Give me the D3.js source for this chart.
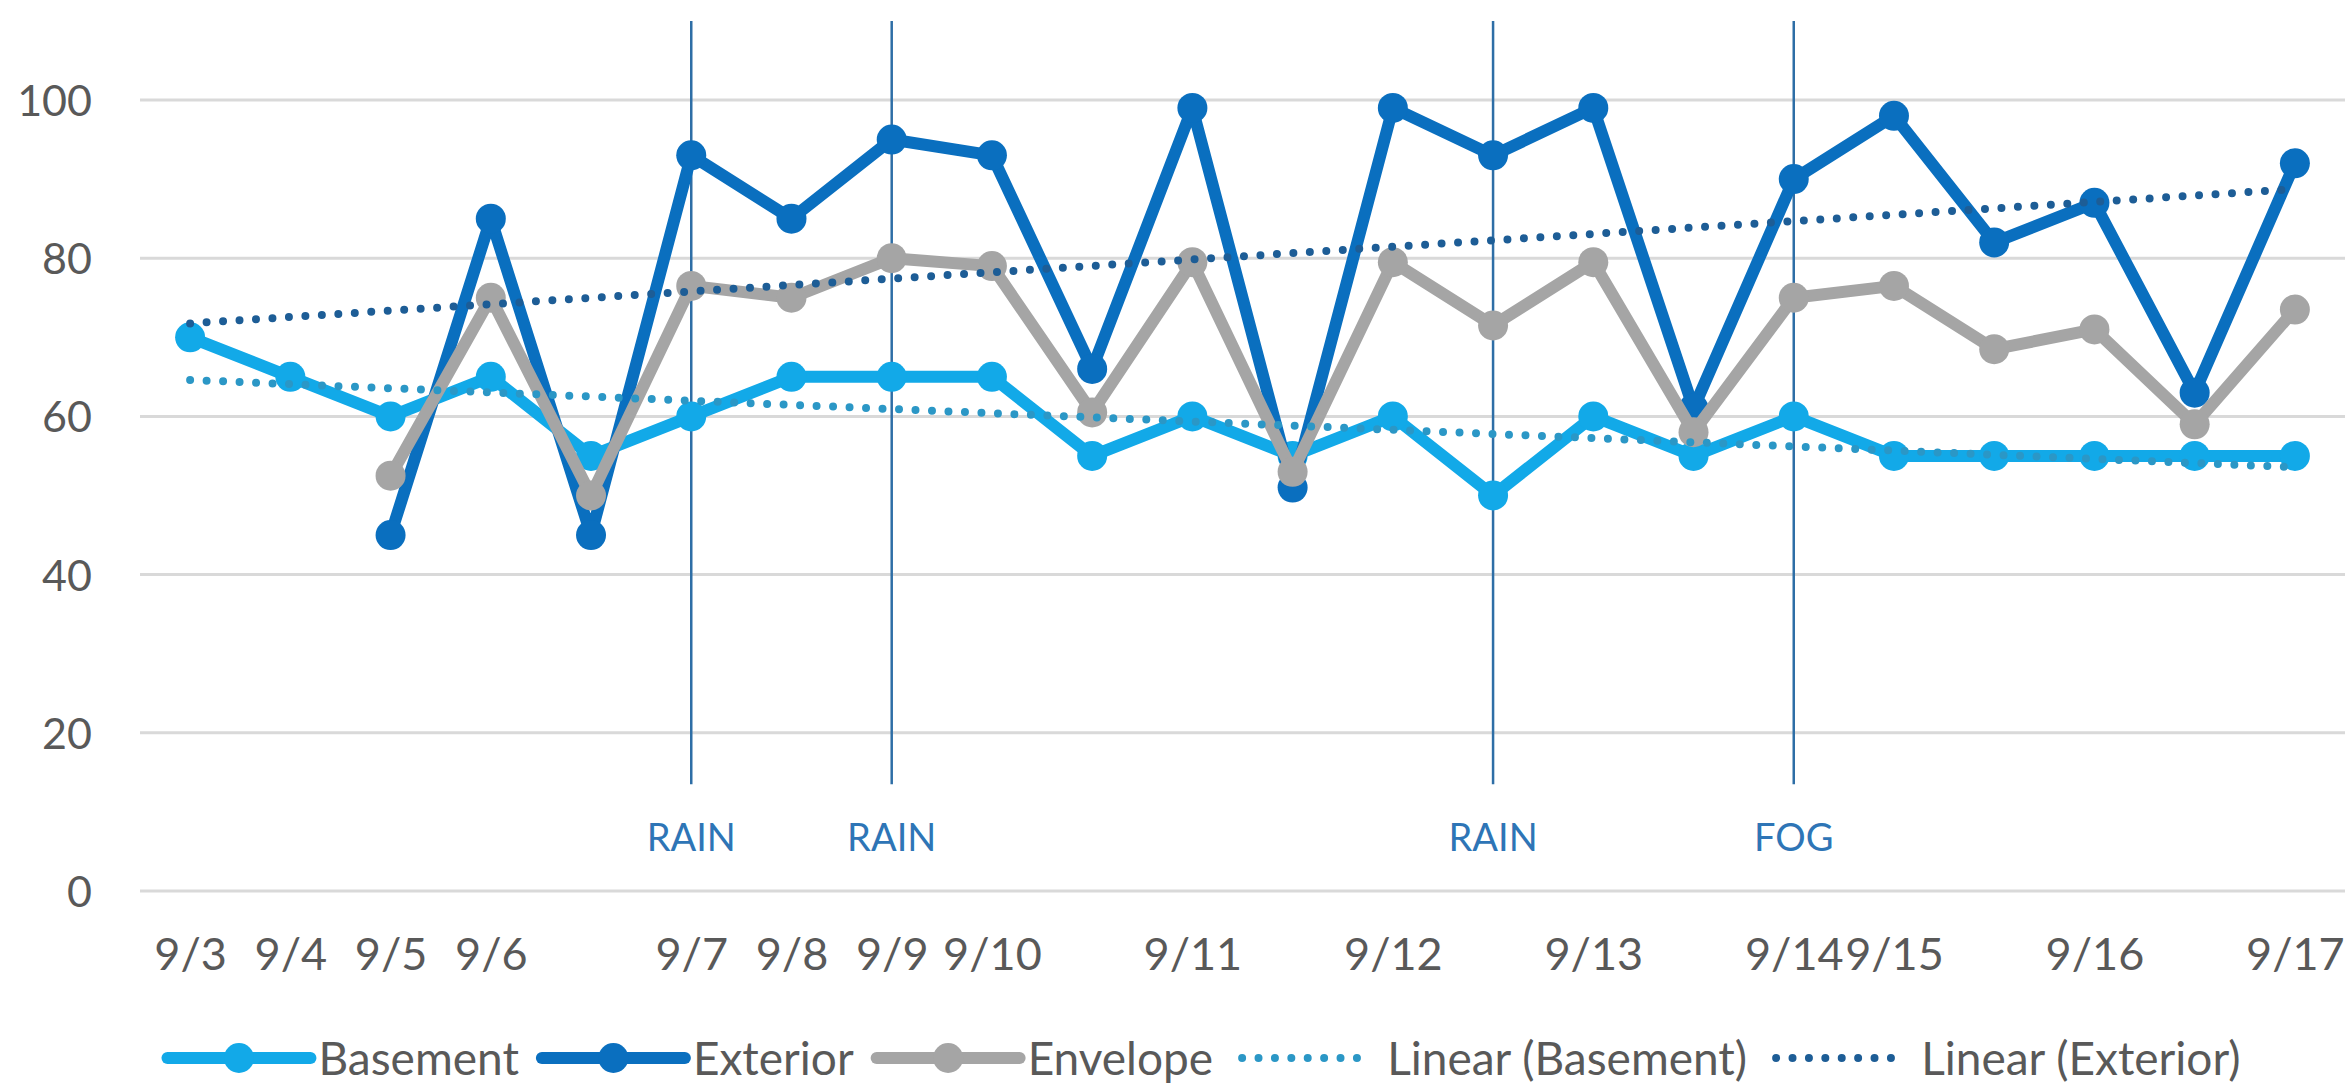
<!DOCTYPE html>
<html lang="en">
<head>
  <meta charset="UTF-8">
  <title>Basement / Exterior / Envelope readings</title>
  <script src="https://d3js.org/d3.v7.min.js"></script>
  <style>
    body { margin: 0; background: #fff; }
    svg text { font-family: Lato, "Open Sans", sans-serif; }
  </style>
</head>
<body>
  <svg id="chart" width="2349" height="1090"></svg>

  <script>
    // categories (blank = second reading of a day)
    const dates = ["9/3", "9/4", "9/5", "9/6", "", "9/7", "9/8", "9/9", "9/10", "",
                   "9/11", "", "9/12", "", "9/13", "", "9/14", "9/15", "", "9/16", "", "9/17"];

    const basement = [70, 65, 60, 65, 55, 60, 65, 65, 65, 55, 60, 55, 60, 50, 60, 55, 60, 55, 55, 55, 55, 55];
    const exterior = [null, null, 45, 85, 45, 93, 85, 95, 93, 66, 99, 51, 99, 93, 99, 61, 90, 98, 82, 87, 63, 92];
    const envelope = [null, null, 52.5, 75, 50, 76.5, 75, 80, 79, 60.5, 79.5, 53, 79.5, 71.5, 79.5, 58, 75, 76.5, 68.5, 71, 59, 73.5];

    const yTicks = [0, 20, 40, 60, 80, 100];

    // weather notes
    const eventIdx    = [5, 7, 13, 16];
    const eventLabels = ["RAIN", "RAIN", "RAIN", "FOG"];

    const svg    = d3.select("#chart");
    const plotL = 140, plotR = 2345;

    const x = d3.scalePoint()
      .domain(d3.range(dates.length))
      .range([plotL, plotR])
      .padding(0.5);

    const y = d3.scaleLinear()
      .domain([0, 100])
      .range([891, 100]);

    // least squares trend over the non-empty points, drawn across the whole axis
    function trend(values) {
      const pts = values.map((v, i) => [i, v]).filter(p => p[1] != null);
      const mx = d3.mean(pts, p => p[0]);
      const my = d3.mean(pts, p => p[1]);
      const sxy = d3.sum(pts, p => (p[0] - mx) * (p[1] - my));
      const sxx = d3.sum(pts, p => (p[0] - mx) ** 2);
      const slope = sxy / sxx;
      return values.map((v, i) => my + slope * (i - mx));
    }

    const series = [
      { name: "Basement", values: basement, color: "#12a9e8" },
      { name: "Exterior", values: exterior, color: "#0a6fbf" },
      { name: "Envelope", values: envelope, color: "#a5a5a5" }
    ];
    const trends = [
      { name: "Linear (Basement)", values: trend(basement), color: "#2b97c6" },
      { name: "Linear (Exterior)", values: trend(exterior), color: "#1d5d96" }
    ];

    // gridlines
    svg.append("g")
      .selectAll("line")
      .data(yTicks)
      .join("line")
        .attr("x1", plotL).attr("x2", plotR)
        .attr("y1", d => y(d)).attr("y2", d => y(d))
        .attr("stroke", "#d9d9d9")
        .attr("stroke-width", 3);

    // y axis labels
    const yAxis = svg.append("g")
      .attr("transform", "translate(92,0)")
      .call(d3.axisLeft(y).tickValues(yTicks).tickSize(0).tickPadding(0));
    yAxis.select(".domain").remove();
    yAxis.selectAll("text")
      .attr("fill", "#595959")
      .attr("dy", "0.36em")
      .style("font-size", "43px");

    // x axis labels
    const xAxis = svg.append("g")
      .attr("transform", `translate(0,${y(0)})`)
      .call(d3.axisBottom(x).tickFormat(i => dates[i]).tickSize(0).tickPadding(47));
    xAxis.select(".domain").remove();
    xAxis.selectAll("text")
      .attr("fill", "#595959")
      .attr("dy", "0.71em")
      .style("font-size", "45px");

    // event markers
    const ev = svg.append("g");
    ev.selectAll("line")
      .data(eventIdx)
      .join("line")
        .attr("x1", d => x(d)).attr("x2", d => x(d))
        .attr("y1", y(110)).attr("y2", y(13.5))
        .attr("stroke", "#2e6ea6")
        .attr("stroke-width", 2.5);
    ev.selectAll("text")
      .data(eventIdx)
      .join("text")
        .attr("x", d => x(d))
        .attr("y", y(5))
        .attr("text-anchor", "middle")
        .attr("fill", "#2e75b6")
        .style("font-size", "38px")
        .text((d, i) => eventLabels[i]);

    const line = d3.line()
      .defined(d => d != null)
      .x((d, i) => x(i))
      .y(d => y(d));

    // series lines + markers
    series.forEach(s => {
      const g = svg.append("g");
      g.append("path")
        .attr("d", line(s.values))
        .attr("fill", "none")
        .attr("stroke", s.color)
        .attr("stroke-width", 12)
        .attr("stroke-linejoin", "round")
        .attr("stroke-linecap", "round");
      g.selectAll("circle")
        .data(s.values.map((v, i) => ({ v, i })).filter(d => d.v != null))
        .join("circle")
          .attr("cx", d => x(d.i))
          .attr("cy", d => y(d.v))
          .attr("r", 15)
          .attr("fill", s.color);
    });

    // trendlines, round dots
    trends.forEach(t => {
      svg.append("path")
        .attr("d", line(t.values))
        .attr("fill", "none")
        .attr("stroke", t.color)
        .attr("stroke-width", 8)
        .attr("stroke-linecap", "round")
        .attr("stroke-dasharray", "0 16.5");
    });

    // legend
    const legendItems = series.map(s => ({ ...s, dotted: false }))
      .concat(trends.map(t => ({ ...t, dotted: true })));
    const legend = svg.append("g");
    const sampleW = 143, textGap = 8, itemGap = 23;
    let cursor = 0;
    legend.selectAll("g")
      .data(legendItems)
      .join("g")
      .each(function (d) {
        const g = d3.select(this);
        g.append("line")
          .attr("x1", d.dotted ? 6 : 0).attr("x2", d.dotted ? sampleW - 6 : sampleW)
          .attr("stroke", d.color)
          .attr("stroke-width", d.dotted ? 8 : 12)
          .attr("stroke-linecap", "round")
          .attr("stroke-dasharray", d.dotted ? "0 16.4" : null);
        if (!d.dotted) {
          g.append("circle")
            .attr("cx", sampleW / 2)
            .attr("r", 15)
            .attr("fill", d.color);
        }
        const t = g.append("text")
          .attr("x", sampleW + textGap)
          .attr("dy", "0.36em")
          .attr("fill", "#595959")
          .style("font-size", "46px")
          .text(d.name);
        g.attr("transform", `translate(${cursor},0)`);
        cursor += sampleW + textGap + t.node().getComputedTextLength() + itemGap;
      });
    const legendW = cursor - itemGap;
    legend.attr("transform", `translate(${1204 - legendW / 2},1058)`);
  </script>
</body>
</html>
